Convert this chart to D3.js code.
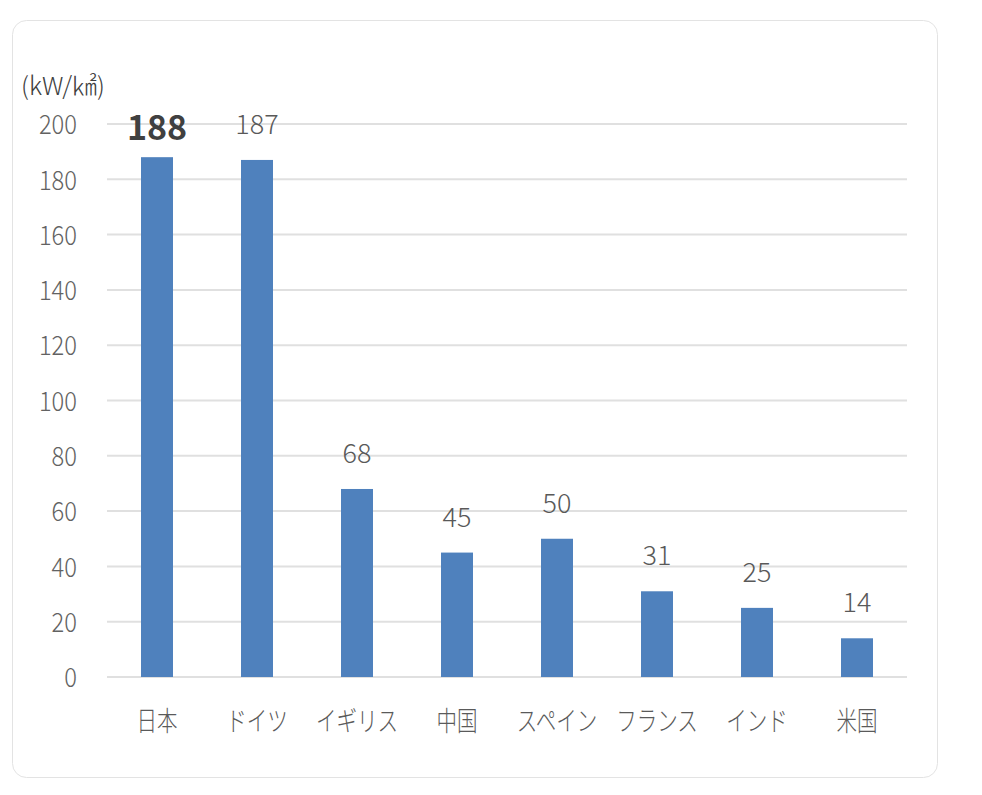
<!DOCTYPE html>
<html><head><meta charset="utf-8">
<script src="https://cdn.jsdelivr.net/npm/d3@7"></script>
<style>
html,body{margin:0;padding:0;background:#fff;}
svg{display:block;}
</style></head>
<body>
<svg id="c" width="982" height="795"></svg>
<script>
const categories = ["日本","ドイツ","イギリス","中国","スペイン","フランス","インド","米国"];
const values = [188,187,68,45,50,31,25,14];
const yTicks = [0,20,40,60,80,100,120,140,160,180,200];
const unitLabel = "(kW/㎢)";

const svg = d3.select("#c");
const font = "'Noto Sans CJK JP','Noto Sans',sans-serif";

svg.append("rect").attr("x",12.5).attr("y",20.5).attr("width",925).attr("height",757)
  .attr("rx",14).attr("fill","#fff").attr("stroke","#e3e3e3").attr("stroke-width",1);

const x = d3.scaleBand().domain(categories).range([107,907]).paddingInner(0.68).paddingOuter(0.34);
const y = d3.scaleLinear().domain([0,200]).range([677,124]);

// grid
svg.append("g").selectAll("line").data(yTicks).join("line")
  .attr("x1",107).attr("x2",907).attr("y1",d=>y(d)).attr("y2",d=>y(d))
  .attr("stroke","#e0e0e0").attr("stroke-width",2);

// y axis labels
const yAxis = d3.axisLeft(y).tickValues(yTicks).tickSize(0).tickPadding(0);
const ga = svg.append("g").attr("transform","translate(77,0)").call(yAxis);
ga.select(".domain").remove();
ga.selectAll("text").attr("font-family",font).attr("font-size",25).attr("font-weight",300)
  .attr("fill","#626262").attr("dy","0.36em").attr("transform","scale(0.95,1.08)");

// bars
svg.append("g").selectAll("rect").data(values).join("rect")
  .attr("x",(d,i)=>x(categories[i])).attr("width",x.bandwidth())
  .attr("y",d=>y(d)).attr("height",d=>y(0)-y(d)).attr("fill","#4f81bd");

// value labels
svg.append("g").selectAll("text").data(values).join("text")
  .attr("x",(d,i)=>x(categories[i])+x.bandwidth()/2)
  .attr("y",(d,i)=> i===0 ? y(d)-17 : y(d)-26)
  .attr("text-anchor","middle")
  .attr("font-family",font)
  .attr("font-size",(d,i)=> i===0 ? 34 : 27)
  .attr("font-weight",(d,i)=> i===0 ? "bold" : 300)
  .attr("fill",(d,i)=> i===0 ? "#404040" : "#595959")
  .text(d=>d);

// x labels
const xAxis = d3.axisBottom(x).tickSize(0).tickPadding(0);
const gx = svg.append("g").attr("transform","translate(0,731)").call(xAxis);
gx.select(".domain").remove();
gx.selectAll("text").attr("font-family",font).attr("font-size",27).attr("font-weight",300)
  .attr("fill","#5a5a5a").attr("dy","0").attr("y",0).attr("x",0)
  .attr("transform","scale(0.76,1)");

// unit
svg.append("text").attr("x",21).attr("y",95).attr("font-family",font).attr("font-size",25)
  .attr("font-weight",300).attr("fill","#404040").text(unitLabel);
</script>
</body></html>
